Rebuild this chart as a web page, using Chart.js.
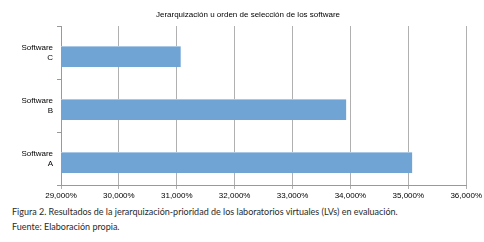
<!DOCTYPE html>
<html>
<head>
<meta charset="utf-8">
<script src="https://cdn.jsdelivr.net/npm/chart.js@4/dist/chart.umd.min.js"></script>
<style>
  html, body { margin: 0; padding: 0; background: #fff; }
  #wrap { position: relative; width: 484px; height: 242px; }
  #chartBox { position: absolute; left: 0; top: 0; width: 484px; height: 202px; }
  #title { position: absolute; left: 0; width: 496px; top: 10px; text-align: center; font-family: 'Liberation Sans', Arial, sans-serif; font-size: 8px; line-height: 10px; color: #000; white-space: nowrap; }
  .cap { position: absolute; left: 12px; font-family: Lato, sans-serif; font-size: 9px; color: #2a2a2a; white-space: nowrap; }
</style>
</head>
<body>
<div id="wrap">
  <div id="chartBox"><canvas id="c"></canvas></div>
  <div id="title"></div>
  <div class="cap" style="top:206px">Figura 2. Resultados de la jerarquización-prioridad de los laboratorios virtuales (LVs) en evaluación.</div>
  <div class="cap" style="top:221px">Fuente: Elaboración propia.</div>
</div>
<script>
const chartTitle = "Jerarquización u orden de selección de los software";
const categories = [["Software", "C"], ["Software", "B"], ["Software", "A"]];
const values = [31.07, 33.93, 35.07];
const xMin = 29, xMax = 36, xStep = 1;

const fmtPct = (v) => v.toFixed(3).replace('.', ',') + '%';

// title sits centred on the page, not on the chart area, so it is plain text above the canvas
document.getElementById('title').textContent = chartTitle;

new Chart(document.getElementById('c'), {
    type: 'bar',
    data: {
        labels: categories,
        datasets: [
            // empty slot so the real bar sits a little below the band centre, as in the original
            {
                data: categories.map(() => null),
                categoryPercentage: 0.3,
                barPercentage: 1
            },
            {
                data: values,
                backgroundColor: '#6fa4d4',
                borderColor: '#a9c8e6',
                borderWidth: { top: 1, right: 0, bottom: 0, left: 0 },
                borderSkipped: false,
                categoryPercentage: 0.3,
                barPercentage: 2.625
            }
        ]
    },
    options: {
        indexAxis: 'y',
        responsive: true,
        maintainAspectRatio: false,
        animation: false,
        layout: { padding: { left: 0, right: 17, top: 26, bottom: 0 } },
        plugins: {
            legend: { display: false },
            tooltip: { enabled: false },
            title: { display: false }
        },
        scales: {
            x: {
                min: xMin,
                max: xMax,
                ticks: {
                    stepSize: xStep,
                    callback: (v) => fmtPct(v),
                    color: '#000',
                    font: { family: 'Liberation Sans', size: 8 },
                    maxRotation: 0,
                    padding: 2
                },
                grid: { color: '#b0b0b0', tickLength: 4 },
                border: { color: '#999' },
                afterFit: (axis) => { axis.height = 17; }
            },
            y: {
                ticks: {
                    color: '#000',
                    font: { family: 'Liberation Sans', size: 8 },
                    padding: 4
                },
                grid: { drawOnChartArea: false, offset: true, color: '#999', tickLength: 4 },
                border: { color: '#999' },
                afterFit: (axis) => { axis.width = 61; }
            }
        }
    }
});
</script>
</body>
</html>
